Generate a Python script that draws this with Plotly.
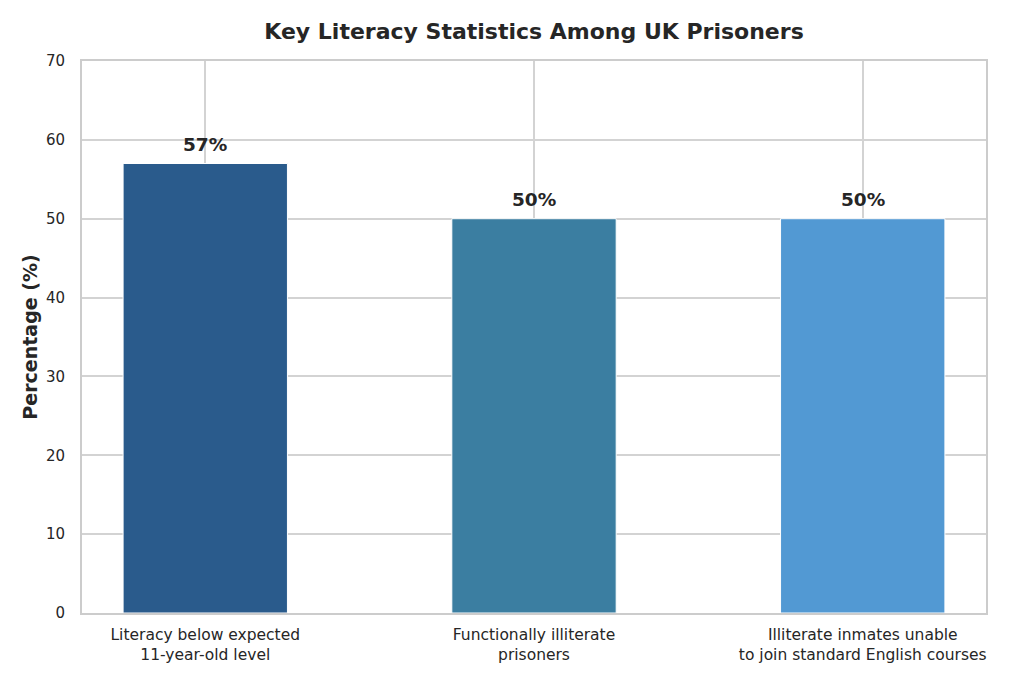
import plotly.graph_objects as go

categories = ["Literacy below expected<br>11-year-old level",
              "Functionally illiterate<br>prisoners",
              "Illiterate inmates unable<br>to join standard English courses"]
values = [57, 50, 50]
labels = ["57%", "50%", "50%"]
colors = ["#2a5b8c", "#3b7ea1", "#5299d3"]
y_ticks = [0, 10, 20, 30, 40, 50, 60, 70]

font = "DejaVu Sans"
fig = go.Figure()
fig.add_trace(go.Bar(
    x=list(range(len(categories))), y=values, width=0.5,
    marker=dict(color=colors, line=dict(color="white", width=1)),
    showlegend=False, hoverinfo="skip",
))
for i, (v, t) in enumerate(zip(values, labels)):
    fig.add_annotation(x=i, y=v + 0.8, text="<b>%s</b>" % t, showarrow=False,
                       yanchor="bottom", font=dict(family=font, size=18.5, color="#262626"))

fig.update_layout(
    width=1024, height=683,
    margin=dict(l=82, r=38, t=61, b=70),
    paper_bgcolor="white", plot_bgcolor="white",
    title=dict(text="<b>Key Literacy Statistics Among UK Prisoners</b>", x=0.5, xanchor="center",
               xref="paper", y=1 - 31 / 683, yanchor="middle",
               font=dict(family=font, size=22, color="#262626")),
    font=dict(family=font, color="#262626"),
)
fig.update_xaxes(
    range=[-0.375, 2.375], tickmode="array", tickvals=list(range(len(categories))),
    ticktext=categories, tickfont=dict(family=font, size=15.5, color="#262626"),
    showgrid=True, gridcolor="#d3d3d3", gridwidth=1.5,
    showline=True, linecolor="#cccccc", linewidth=2, mirror=True,
    ticks="outside", ticklen=6, tickcolor="rgba(0,0,0,0)", zeroline=False,
)
fig.update_yaxes(
    range=[0, 70], tickvals=y_ticks, tickfont=dict(family=font, size=15, color="#262626"),
    title=dict(text="<b>Percentage (%)</b>", font=dict(family=font, size=19, color="#262626"), standoff=3),
    showgrid=True, gridcolor="#d3d3d3", gridwidth=1.5,
    showline=True, linecolor="#cccccc", linewidth=2, mirror=True,
    ticks="outside", ticklen=12, tickcolor="rgba(0,0,0,0)", zeroline=False,
)
fig.write_html("out.html", config={"displayModeBar": False},
               post_script="document.body.style.margin='0';")
